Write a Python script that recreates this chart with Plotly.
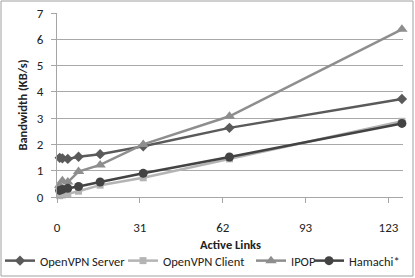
import plotly.graph_objects as go

links = [1, 2, 4, 8, 16, 32, 64, 128]
openvpn_server = [1.49, 1.47, 1.45, 1.53, 1.63, 1.93, 2.63, 3.73]
openvpn_client = [0.05, 0.08, 0.12, 0.22, 0.45, 0.73, 1.45, 2.88]
ipop = [0.45, 0.62, 0.57, 0.97, 1.22, 2.0, 3.07, 6.38]
hamachi = [0.25, 0.29, 0.33, 0.4, 0.57, 0.9, 1.52, 2.8]

x_tickvals = [0, 30.75, 61.5, 92.25, 123]
x_ticktext = ["0", "31", "62", "93", "123"]

series = [
    ("OpenVPN Server", openvpn_server, "#5a5a5a", "diamond", 8),
    ("OpenVPN Client", openvpn_client, "#b4b4b4", "square", 7),
    ("IPOP", ipop, "#8e8e8e", "triangle-up", 10),
    ("Hamachi*", hamachi, "#434343", "circle", 9),
]
legend_ids = ["legend", "legend2", "legend3", "legend4"]
legend_left_px = [-8, 123, 251, 309]

FONT = "Calibri, Carlito, Lato, sans-serif"
W, H = 415, 278
PL, PR, PT, PB = 57, 403, 13, 197  # plot area in pixels
PW, PH = PR - PL, PB - PT

fig = go.Figure()
for (name, vals, color, sym, size), lid in zip(series, legend_ids):
    fig.add_trace(go.Scatter(
        x=links, y=vals, name=name, mode="lines+markers", cliponaxis=False,
        line=dict(color=color, width=2.5),
        marker=dict(symbol=sym, size=size, color=color),
        legend=lid,
    ))

legend_layouts = {}
for lid, lx in zip(legend_ids, legend_left_px):
    legend_layouts[lid] = dict(
        orientation="h", x=lx / W, xanchor="left", xref="container",
        y=1 - 261 / H, yanchor="middle", yref="container",
        font=dict(size=12.5, color="#222222"),
        itemwidth=30, bgcolor="rgba(0,0,0,0)", borderwidth=0,
    )

fig.update_layout(
    width=W, height=H,
    margin=dict(l=PL, r=W - PR, t=PT, b=H - PB, autoexpand=False),
    paper_bgcolor="white", plot_bgcolor="white",
    font=dict(family=FONT, size=13, color="#222222"),
    showlegend=True,
    xaxis=dict(
        range=[0, 128.4], tickvals=x_tickvals, ticktext=x_ticktext, automargin=False,
        showgrid=False, zeroline=False, showline=True, linecolor="#a6a6a6", linewidth=1,
        ticks="outside", ticklen=5, tickcolor="#a6a6a6", ticklabelstandoff=13,
    ),
    yaxis=dict(
        range=[0, 7], dtick=1, showgrid=True, gridcolor="#a9a9a9", gridwidth=1, automargin=False,
        zeroline=False, showline=True, linecolor="#a6a6a6", linewidth=1,
        ticks="outside", ticklen=5, tickcolor="#a6a6a6", ticklabelstandoff=5,
        title=dict(text="<b>Bandwidth (KB/s)</b>", font=dict(size=12.5), standoff=6),
    ),
    annotations=[dict(text="<b>Active Links</b>", xref="paper", yref="paper",
                      x=0.5, y=(PB - 244) / PH, xanchor="center", yanchor="middle",
                      showarrow=False, font=dict(size=12.5, color="#222222"))],
    shapes=[dict(type="rect", xref="paper", yref="paper",
                 x0=(1 - PL) / PW, x1=(413 - PL) / PW,
                 y0=(PB - 276) / PH, y1=(PB - 1) / PH,
                 line=dict(color="#a0a0a0", width=1))],
    **legend_layouts,
)

fig.write_html("out.html", config={"displayModeBar": False},
               post_script="document.body.style.margin='0';")
